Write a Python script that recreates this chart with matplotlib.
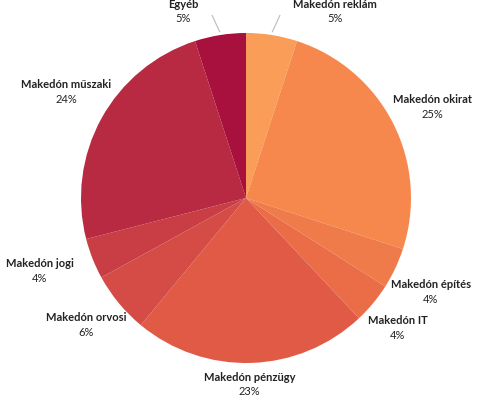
import matplotlib
matplotlib.use("Agg")
import matplotlib.pyplot as plt
import numpy as np

labels = ["Makedón reklám", "Makedón okirat", "Makedón építés", "Makedón IT",
          "Makedón pénzügy", "Makedón orvosi", "Makedón jogi", "Makedón műszaki", "Egyéb"]
values = [5, 25, 4, 4, 23, 6, 4, 24, 5]
colors = ["#f99d58", "#f6884e", "#f07b4a", "#ea6d48", "#e05a46", "#d44c45",
          "#c83e44", "#b82a41", "#a8103e"]
label_pos = [(0.54, 1.13), (1.13, 0.55), (1.12, -0.57), (0.92, -0.79), (0.02, -1.13),
             (-0.97, -0.77), (-1.25, -0.44), (-1.09, 0.64), (-0.38, 1.13)]

fig = plt.figure(figsize=(4.95, 4.0), dpi=100)
ax = fig.add_axes([(246 - 165) / 495, (202 - 165) / 400, 330 / 495, 330 / 400])
wedges, _ = ax.pie(values, colors=colors, startangle=90, counterclock=False, radius=1,
                   wedgeprops=dict(linewidth=0))
ax.set_xlim(-1, 1); ax.set_ylim(-1, 1); ax.set_aspect("equal"); ax.axis("off")

for lab, v, (x, y) in zip(labels, values, label_pos):
    ax.text(x, y + 0.045, lab, ha="center", va="center", fontsize=8, fontweight="bold",
            color="#222222", family="Lato")
    ax.text(x, y - 0.045, f"{v}%", ha="center", va="center", fontsize=8,
            color="#222222", family="Lato")

# leader lines for small top slices
for w in (wedges[0], wedges[-1]):
    a = np.deg2rad((w.theta1 + w.theta2) / 2)
    x0, y0 = 1.02 * np.cos(a), 1.02 * np.sin(a)
    x1, y1 = 1.12 * np.cos(a) + (0.03 if np.cos(a) > 0 else -0.03), 1.12 * np.sin(a)
    ax.plot([x0, x1], [y0, y1], color="#bbbbbb", lw=0.8, clip_on=False)

fig.savefig("out.png", dpi=100)
